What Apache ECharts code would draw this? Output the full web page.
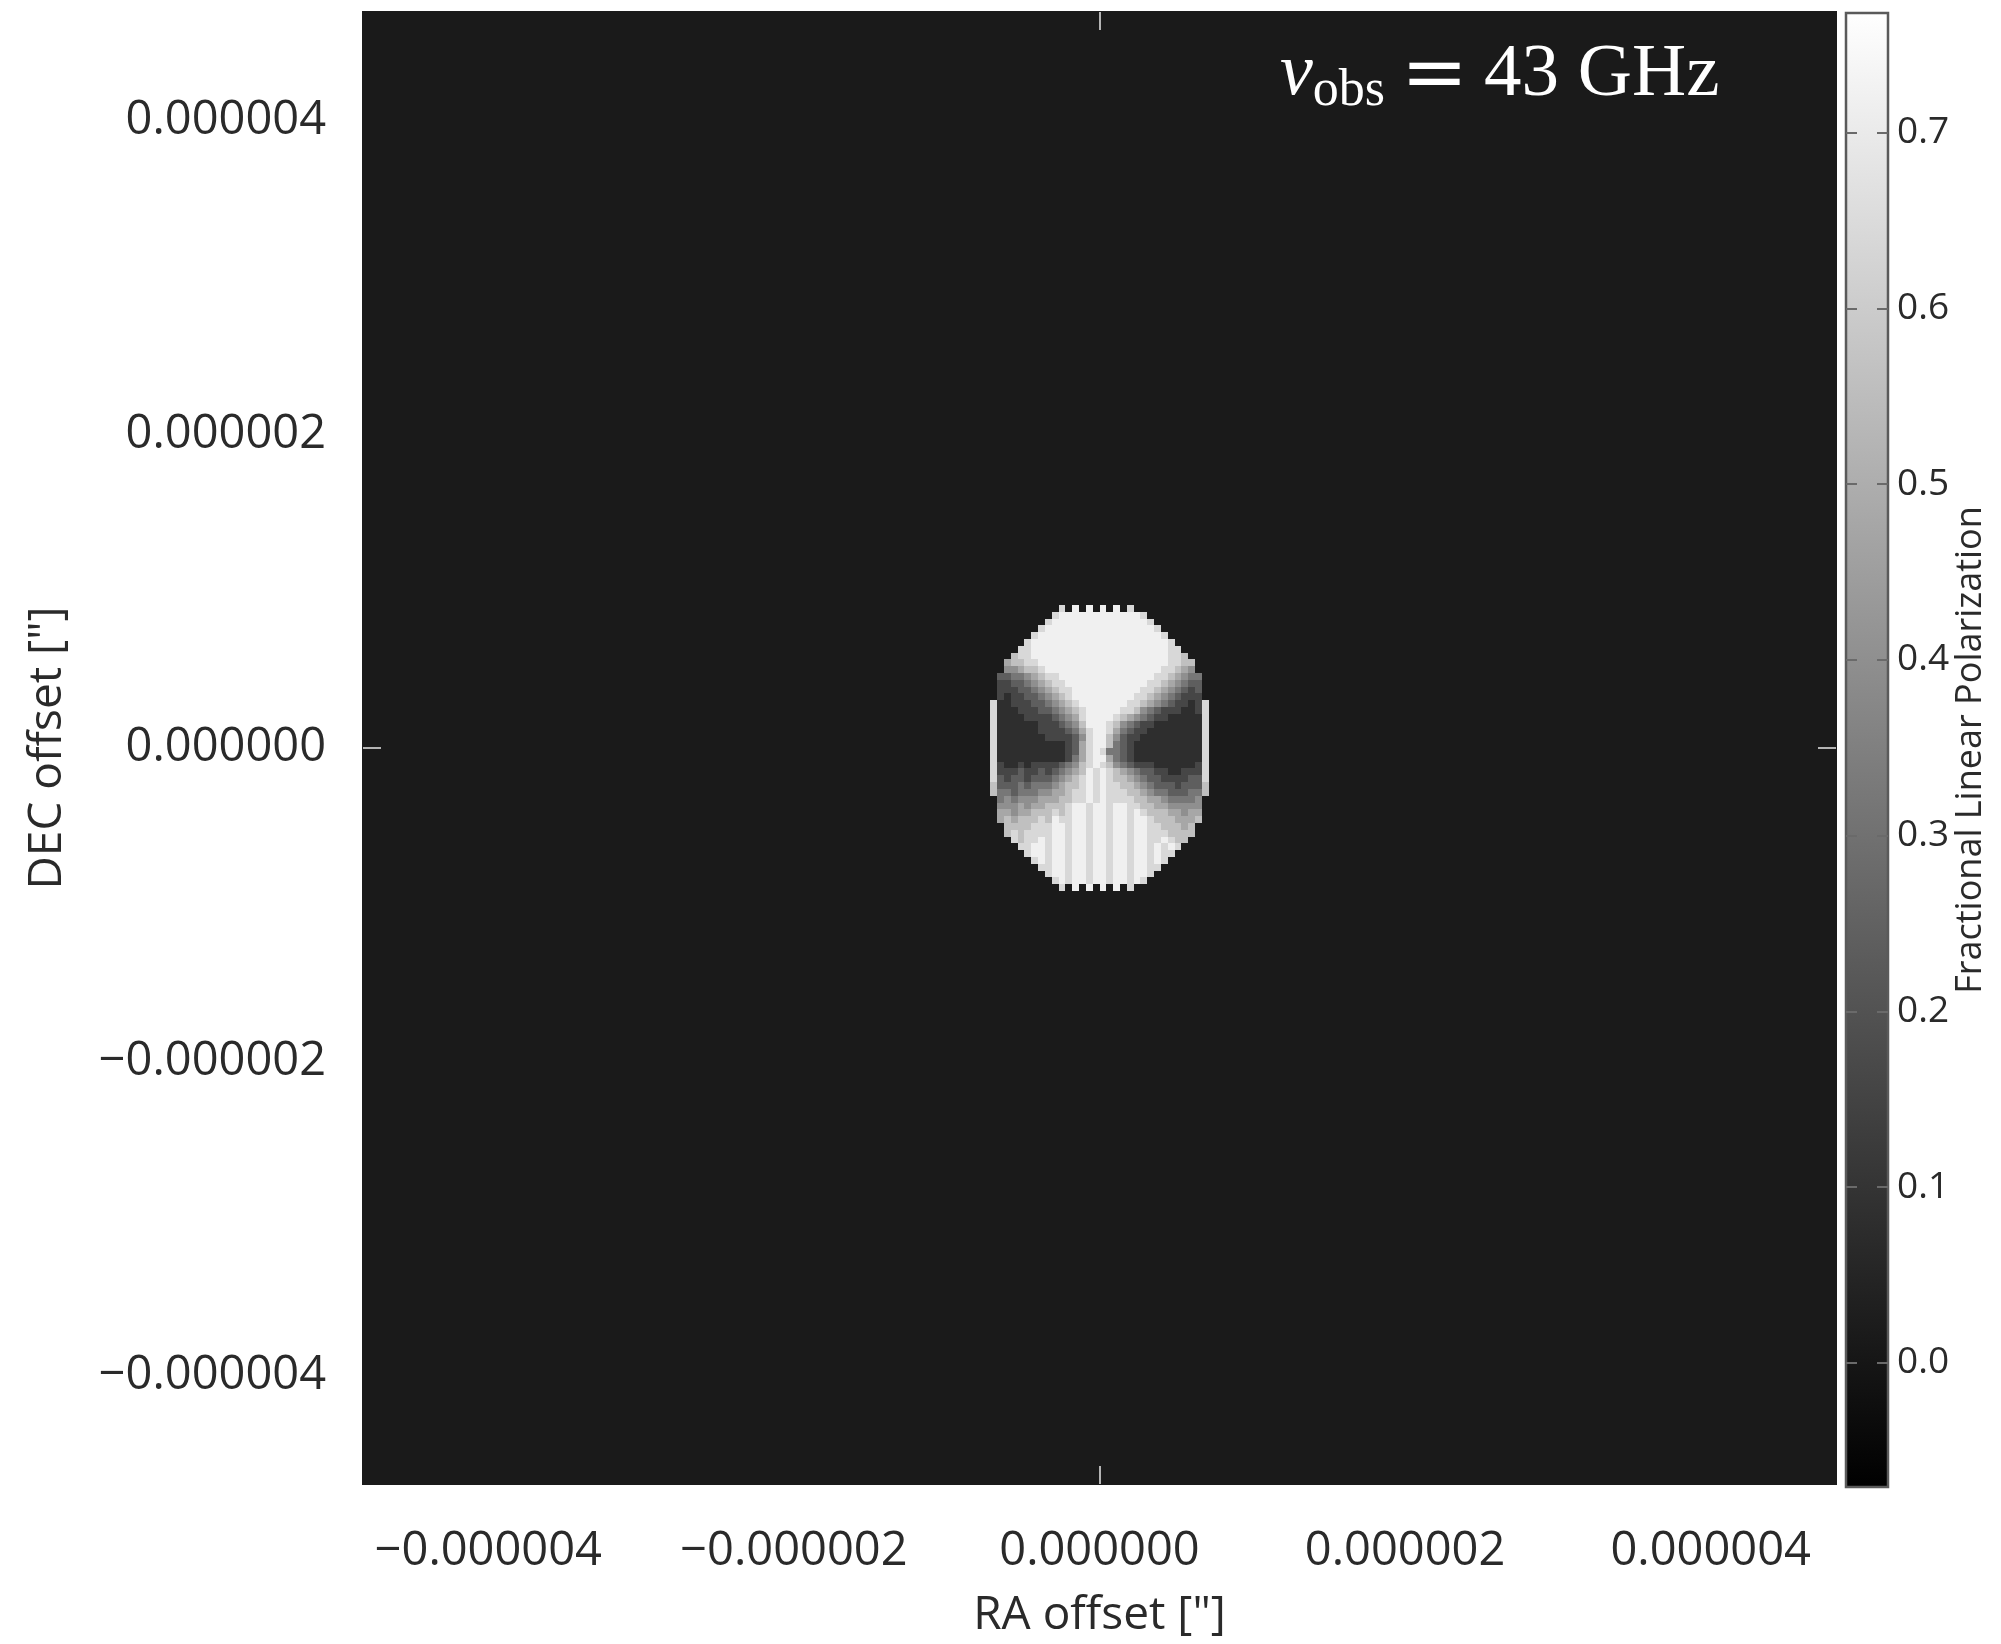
<!DOCTYPE html>
<html>
<head>
<meta charset="utf-8">
<script src="https://cdn.jsdelivr.net/npm/echarts@6/dist/echarts.min.js"></script>
<style>
  html, body { margin: 0; padding: 0; background: #ffffff; }
  #chart { width: 2001px; height: 1644px; }
</style>
</head>
<body>
<div id="chart"></div>
<script>
// Sky offsets covered by the map (arcsec)
const raRange = [-4.82e-6, 4.82e-6];
const decRange = [-4.69e-6, 4.69e-6];
const raTicks = [-4e-6, -2e-6, 0, 2e-6, 4e-6];
const decTicks = [-4e-6, -2e-6, 0, 2e-6, 4e-6];

// Grey colour scale of the fractional linear polarization
const polRange = [-0.0706, 0.768];
const polTicks = [0.0, 0.1, 0.2, 0.3, 0.4, 0.5, 0.6, 0.7];
const backgroundPol = 0.015;

// The map is a 216 x 216 pixel image; only the emitting region is listed.
// Each digit is a polarization level (digit * levelStep), '.' is empty sky.
const mapPixels = 216;
const regionFirstRow = 87;   // image row of regionRows[0], counted from the top
const regionFirstCol = 92;   // image column of the first character
const levelStep = 0.08;
const regionRows = [
  '........ ..8.9.9. 9.9.8... ........',
  '........ .8999999 9999998. ........',
  '........ 89999999 99999998 ........',
  '.......8 99999999 99999999 8.......',
  '......89 99999999 99999999 98......',
  '.....899 99999999 99999999 998.....',
  '....8899 99999999 99999999 9988....',
  '...78899 99999999 99999999 99887...',
  '..677889 99999999 99999999 998877..',
  '..556778 99999999 99999999 988765..',
  '.3344567 88999999 99999999 8876544.',
  '.2233456 78899999 99999998 8765433.',
  '.2223345 67889999 99999988 7654323.',
  '.2122334 56789999 99999887 6543222.',
  '81122233 45678999 99998876 54322128',
  '81112223 34567899 99988754 32221128',
  '81111222 23456899 99876543 22111118',
  '81111112 22345799 98754322 11111118',
  '81111112 22234689 98643221 11111118',
  '81111111 22223589 97532211 11111118',
  '81111111 11123689 97432111 11111118',
  '81111111 11123689 84432111 11111118',
  '81111111 11124689 96432111 11111118',
  '82112122 22345789 87543222 11111128',
  '82223223 23456798 98765433 22112228',
  '83233233 34567898 98776543 32222338',
  '73334344 45677898 98877654 33323337',
  '74434445 56678898 98887765 44333447',
  '.4545556 66778898 98888776 6544445.',
  '.5556566 77789989 98998877 6655555.',
  '.6656677 78789989 98998987 7766566.',
  '.6767778 79889989 98998998 7776667.',
  '..777788 89989989 98998998 877767..',
  '..787888 89989989 98998998 887777..',
  '...87889 89989989 98998998 89877...',
  '....8899 89989989 98998998 9898....',
  '.....899 89989989 98998998 988.....',
  '......89 89989989 98998998 98......',
  '.......8 89989989 98998998 8.......',
  '........ 89989989 98998998 ........',
  '........ .8989989 9899898. ........',
  '........ ..8.9.9. 9.9.8... ........'
];

// ---- build the pixel list [ra, dec, polarization] ----
const dRa = (raRange[1] - raRange[0]) / mapPixels;
const dDec = (decRange[1] - decRange[0]) / mapPixels;
const pixels = [];
regionRows.forEach(function (rowText, r) {
  const row = rowText.replace(/\s/g, '');
  for (let c = 0; c < row.length; c++) {
    const ch = row[c];
    if (ch === '.') continue;
    const ra = raRange[0] + (regionFirstCol + c + 0.5) * dRa;
    const dec = decRange[1] - (regionFirstRow + r + 0.5) * dDec;
    pixels.push([ra, dec, Number(ch) * levelStep]);
  }
});

function greyOf(v) {
  const t = Math.max(0, Math.min(1, (v - polRange[0]) / (polRange[1] - polRange[0])));
  const g = Math.round(t * 255).toString(16).padStart(2, '0');
  return '#' + g + g + g;
}

function offsetLabel(v) {
  if (Math.abs(v) < 1e-12) return '0.000000';
  return (v < 0 ? '\u2212' : '') + Math.abs(v).toFixed(6);
}

const textColor = '#2a2a2a';
const uiFont = 'Open Sans';
const mathFont = 'Liberation Serif';

const chart = echarts.init(document.getElementById('chart'), null, { renderer: 'canvas' });

function zeroTick() {
  return {
    show: true, inside: true, length: 18, customValues: [0],
    lineStyle: { color: '#b4b4b4', width: 2 }
  };
}
function barTick() {
  return {
    show: true, inside: true, length: 11, customValues: polTicks,
    lineStyle: { color: '#6a6a6a', width: 2 }
  };
}
const hiddenLine = { show: false, onZero: false };

const option = {
  animation: false,
  backgroundColor: '#ffffff',
  title: {
    text: '{nu|\u03bd}{sub|obs}{eq|=}{rest|43 GHz}',
    left: 1280, top: 33, padding: 0,
    textStyle: {
      rich: {
        nu: { fontFamily: mathFont, fontStyle: 'italic', fontWeight: 'normal', fontSize: 74, color: '#ffffff', lineHeight: 84, verticalAlign: 'middle' },
        sub: { fontFamily: mathFont, fontWeight: 'normal', fontSize: 52, color: '#ffffff', lineHeight: 50, verticalAlign: 'bottom' },
        eq: { fontFamily: 'DejaVu Serif', fontWeight: 'normal', fontSize: 80, color: '#ffffff', lineHeight: 84, verticalAlign: 'middle', padding: [6, 16, 0, 16] },
        rest: { fontFamily: mathFont, fontWeight: 'normal', fontSize: 75, color: '#ffffff', lineHeight: 84, verticalAlign: 'middle' }
      }
    },
    z: 20
  },
  grid: [
    {
      left: 363, top: 12, width: 1473, height: 1474,
      show: true, backgroundColor: greyOf(backgroundPol),
      borderColor: '#1a1a1a', borderWidth: 2
    },
    {
      left: 1846, top: 13, width: 42, height: 1474,
      show: false
    }
  ],
  visualMap: {
    type: 'continuous', show: false,
    min: polRange[0], max: polRange[1],
    dimension: 2, seriesIndex: 0,
    inRange: { color: ['#000000', '#ffffff'] }
  },
  xAxis: [
    {
      type: 'value', gridIndex: 0, position: 'bottom',
      min: raRange[0], max: raRange[1],
      axisLine: hiddenLine, splitLine: { show: false },
      axisTick: zeroTick(),
      axisLabel: {
        customValues: raTicks, formatter: offsetLabel,
        fontFamily: uiFont, fontSize: 47, color: textColor, margin: 44
      },
      name: 'RA offset ["]', nameLocation: 'middle', nameGap: 109,
      nameTextStyle: { fontFamily: uiFont, fontSize: 46, color: textColor },
      z: 10
    },
    {
      type: 'value', gridIndex: 0, position: 'top',
      min: raRange[0], max: raRange[1],
      axisLine: hiddenLine, splitLine: { show: false },
      axisTick: zeroTick(), axisLabel: { show: false }, z: 10
    },
    {
      type: 'value', gridIndex: 1, min: 0, max: 1, show: false
    }
  ],
  yAxis: [
    {
      type: 'value', gridIndex: 0, position: 'left',
      min: decRange[0], max: decRange[1],
      axisLine: hiddenLine, splitLine: { show: false },
      axisTick: zeroTick(),
      axisLabel: {
        customValues: decTicks, formatter: offsetLabel,
        fontFamily: uiFont, fontSize: 47, color: textColor, margin: 37
      },
      name: 'DEC offset ["]', nameLocation: 'middle', nameRotate: 90, nameGap: 292,
      nameTextStyle: { fontFamily: uiFont, fontSize: 46, color: textColor },
      z: 10
    },
    {
      type: 'value', gridIndex: 0, position: 'right',
      min: decRange[0], max: decRange[1],
      axisLine: hiddenLine, splitLine: { show: false },
      axisTick: zeroTick(), axisLabel: { show: false }, z: 10
    },
    {
      type: 'value', gridIndex: 1, position: 'left',
      min: polRange[0], max: polRange[1],
      axisLine: hiddenLine, splitLine: { show: false },
      axisTick: barTick(), axisLabel: { show: false }, z: 10
    },
    {
      type: 'value', gridIndex: 1, position: 'right',
      min: polRange[0], max: polRange[1],
      axisLine: hiddenLine, splitLine: { show: false },
      axisTick: barTick(),
      axisLabel: {
        customValues: polTicks, formatter: function (v) { return v.toFixed(1); },
        fontFamily: uiFont, fontSize: 37, color: textColor, margin: 9
      },
      name: 'Fractional Linear Polarization', nameLocation: 'middle', nameRotate: 90, nameGap: 60,
      nameTextStyle: { fontFamily: uiFont, fontSize: 36, color: textColor },
      z: 10
    }
  ],
  series: [
    {
      // polarization map pixels
      type: 'custom', name: 'map',
      xAxisIndex: 0, yAxisIndex: 0,
      dimensions: ['ra', 'dec', 'pol'],
      encode: { x: 0, y: 1 },
      data: pixels,
      clip: true,
      renderItem: function (params, api) {
        const c = api.coord([api.value(0), api.value(1)]);
        const s = api.size([dRa, dDec]);
        const x0 = Math.round(c[0] - s[0] / 2), x1 = Math.round(c[0] + s[0] / 2);
        const y0 = Math.round(c[1] - s[1] / 2), y1 = Math.round(c[1] + s[1] / 2);
        return {
          type: 'rect',
          shape: { x: x0, y: y0, width: x1 - x0, height: y1 - y0 },
          style: { fill: api.visual('color') }
        };
      }
    },
    {
      // colour bar spanning the whole polarization range
      type: 'custom', name: 'colorbar',
      xAxisIndex: 2, yAxisIndex: 3,
      data: [[0, polRange[0], 1, polRange[1]]],
      renderItem: function (params, api) {
        const p0 = api.coord([api.value(0), api.value(3)]);
        const p1 = api.coord([api.value(2), api.value(1)]);
        return {
          type: 'rect',
          shape: { x: p0[0], y: p0[1], width: p1[0] - p0[0], height: p1[1] - p0[1] },
          style: {
            fill: {
              type: 'linear', x: 0, y: 0, x2: 0, y2: 1,
              colorStops: [{ offset: 0, color: '#ffffff' }, { offset: 1, color: '#000000' }]
            },
            stroke: '#5a5a5a', lineWidth: 2.5
          }
        };
      }
    }
  ]
};

chart.setOption(option);
</script>
</body>
</html>
